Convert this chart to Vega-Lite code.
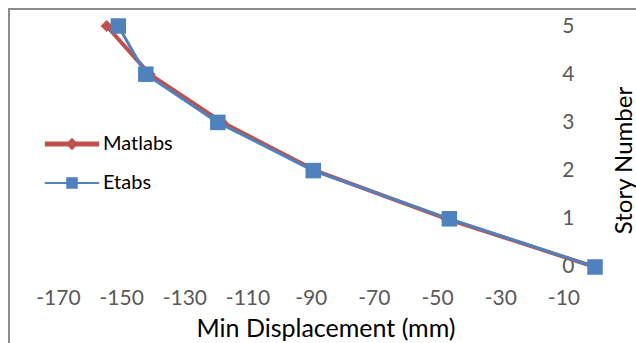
{
  "$schema": "https://vega.github.io/schema/vega-lite/v6.json",
  "width": 629,
  "height": 336,
  "autosize": {"type": "none"},
  "padding": {"left": 9, "top": 9, "right": -2, "bottom": -2},
  "background": "white",
  "config": {
    "font": "Lato",
    "view": {"stroke": "#8c8c8c", "strokeWidth": 2}
  },
  "data": {
    "values": [
      {"series": "Matlabs", "story": 5, "disp": -154.6},
      {"series": "Matlabs", "story": 4, "disp": -141.0},
      {"series": "Matlabs", "story": 3, "disp": -118.0},
      {"series": "Matlabs", "story": 2, "disp": -88.5},
      {"series": "Matlabs", "story": 1, "disp": -47.0},
      {"series": "Matlabs", "story": 0, "disp": 0},
      {"series": "Etabs", "story": 5, "disp": -150.9},
      {"series": "Etabs", "story": 4, "disp": -142.2},
      {"series": "Etabs", "story": 3, "disp": -119.4},
      {"series": "Etabs", "story": 2, "disp": -89.2},
      {"series": "Etabs", "story": 1, "disp": -46.1},
      {"series": "Etabs", "story": 0, "disp": 0}
    ]
  },
  "encoding": {
    "x": {
      "field": "disp",
      "type": "quantitative",
      "scale": {"domain": [-185.51, 13.61], "nice": false, "zero": false},
      "axis": {
        "title": "Min Displacement (mm)",
        "values": [-170, -150, -130, -110, -90, -70, -50, -30, -10],
        "labelExpr": "datum.value + ''",
        "orient": "bottom",
        "offset": -46.5,
        "domain": false,
        "ticks": false,
        "tickSize": 0,
        "grid": false,
        "labelPadding": 0,
        "labelBaseline": "middle",
        "labelFontSize": 21,
        "labelColor": "#595959",
        "labelFlush": false,
        "labelOverlap": false,
        "titleFontSize": 25,
        "titleFontWeight": "normal",
        "titleColor": "#000000",
        "titleX": 316.5,
        "titleY": 37.5,
        "titleBaseline": "alphabetic",
        "titleAlign": "center"
      }
    },
    "y": {
      "field": "story",
      "type": "quantitative",
      "scale": {"domain": [-1.6183, 5.3527], "nice": false, "zero": false},
      "axis": {
        "title": "Story Number",
        "values": [0, 1, 2, 3, 4, 5],
        "orient": "right",
        "offset": -64,
        "domain": false,
        "ticks": false,
        "tickSize": 0,
        "grid": false,
        "labelPadding": 0,
        "labelAlign": "right",
        "labelBaseline": "middle",
        "labelFontSize": 21,
        "labelColor": "#595959",
        "labelFlush": false,
        "labelOverlap": false,
        "titleFontSize": 24,
        "titleFontWeight": "normal",
        "titleColor": "#000000",
        "titleAngle": 270,
        "titleX": 57,
        "titleY": 151,
        "titleBaseline": "alphabetic",
        "titleAlign": "center"
      }
    },
    "color": {
      "field": "series",
      "type": "nominal",
      "scale": {"domain": ["Matlabs", "Etabs"], "range": ["#C0504D", "#4F81BD"]},
      "legend": {
        "title": null,
        "orient": "none",
        "legendX": 53,
        "legendY": 125,
        "direction": "vertical",
        "padding": 0,
        "symbolSize": 256,
        "labelFontSize": 20,
        "labelColor": "#000000",
        "labelOffset": 21,
        "rowPadding": 19,
        "labelBaseline": "middle",
        "encode": {
          "symbols": {
            "update": {
              "shape": {"signal": "datum.value === 'Matlabs' ? 'M-3.4,-0.3L3.4,-0.3L3.4,0.3L-3.4,0.3Z M0,-0.78L0.78,0L0,0.78L-0.78,0Z' : 'M-3.4,-0.13L3.4,-0.13L3.4,0.13L-3.4,0.13Z M-0.72,-0.72L0.72,-0.72L0.72,0.72L-0.72,0.72Z'"},
              "fill": {"signal": "datum.value === 'Matlabs' ? '#C0504D' : '#4F81BD'"},
              "stroke": {"value": "transparent"},
              "strokeWidth": {"value": 0},
              "opacity": {"value": 1}
            }
          }
        }
      }
    }
  },
  "layer": [
    {
      "data": {"values": [{}]},
      "mark": {"type": "rule", "strokeWidth": 1.5},
      "encoding": {
        "x": {"datum": -170},
        "x2": {"datum": 0},
        "y": {"datum": 0},
        "color": {"value": "#bfbfbf"}
      }
    },
    {
      "data": {"values": [{}]},
      "mark": {"type": "rule", "strokeWidth": 1.5},
      "encoding": {
        "x": {"datum": 0},
        "y": {"datum": 0},
        "y2": {"datum": 5},
        "color": {"value": "#bfbfbf"}
      }
    },
    {
      "transform": [{"filter": "datum.series === 'Matlabs'"}],
      "mark": {"type": "line", "strokeWidth": 4}
    },
    {
      "transform": [{"filter": "datum.series === 'Etabs'"}],
      "mark": {"type": "line", "strokeWidth": 3}
    },
    {
      "transform": [{"filter": "datum.series === 'Matlabs'"}],
      "mark": {"type": "point", "shape": "diamond", "size": 144, "filled": true, "opacity": 1}
    },
    {
      "transform": [{"filter": "datum.series === 'Etabs'"}],
      "mark": {"type": "point", "shape": "square", "size": 240, "filled": true, "opacity": 1}
    }
  ]
}
